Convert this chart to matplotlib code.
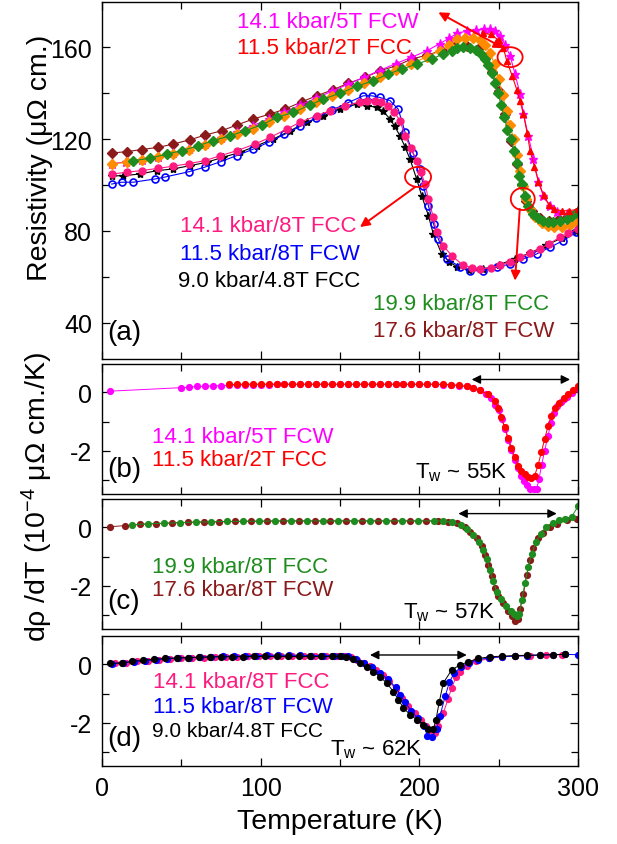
import matplotlib
matplotlib.use("Agg")
import matplotlib.pyplot as plt
from matplotlib.patches import Ellipse

plt.rcParams["font.family"] = ["Liberation Sans", "DejaVu Sans"]
plt.rcParams["mathtext.fontset"] = "custom"
plt.rcParams["mathtext.rm"] = "Liberation Sans"
plt.rcParams["mathtext.it"] = "Liberation Sans:italic"
plt.rcParams["axes.unicode_minus"] = False

# ---------------- panel (a): resistivity ----------------
T_maroon = [6, 15.5, 25, 35.5, 45, 55.5, 65, 75.4, 85, 95.4, 106, 115.3, 126, 135.3, 145.8,
            155.3, 165.8, 175.2, 185.7, 195.2, 205, 214, 222, 230, 237, 242, 246, 250, 254,
            258, 261.5, 264.5, 267.5, 271, 276, 282, 288, 294, 299]
R_maroon = [113.9, 114.5, 115.4, 116.4, 117.8, 119.7, 121.7, 123.6, 126.1, 128.7, 130.9, 133.0,
            136.2, 138.8, 141.5, 144.3, 146.8, 149.7, 151.9, 154.8, 156.5, 158.5, 160, 160.3,
            159, 155.5, 149, 141, 131, 119, 109, 100, 93, 88.5, 85.5, 84.5, 85, 86.5, 88]

T_orange = [6, 15.5, 25, 35, 45, 55, 65, 75, 85, 95, 105, 115, 125, 135, 145, 155, 165, 175,
            185, 195, 205, 213, 219, 224, 229, 234, 238, 241.5, 244.5, 247.5, 250, 252.5, 255,
            257, 259.5, 261.5, 263.5, 265.5, 267.5, 270, 273, 277, 281, 285, 290, 295, 300]
R_orange = [109.1, 109.9, 110.8, 112, 113.3, 115.2, 117.5, 119.8, 122, 124.5, 127.2, 130, 133,
            136, 138.8, 141.5, 144.3, 147, 150, 152.8, 155.8, 158.5, 161, 163.3, 164, 164,
            163, 161, 157.5, 152.5, 146, 139, 132, 126, 120, 113, 106, 99.5, 94, 89.5, 86,
            83.5, 82.2, 81.6, 81.9, 82.6, 84]

T_green = [19.7, 30.3, 40.8, 50.2, 60.7, 70.2, 80.7, 90.1, 100.6, 110.1, 120.6, 131.1, 139.5,
           150, 160.5, 171, 180.5, 188.9, 198.3, 207.8, 215.1, 220.4, 223.6, 227.7, 232, 236,
           239, 241.5, 243.5, 245.5, 247.5, 249.5, 251.5, 253.5, 255.5, 257.5, 259.5, 261.4,
           263, 264.5, 266.6, 268.7, 271.9, 275, 278.2, 281, 284.5, 288.5, 292.9, 296.5, 300]
R_green = [110.6, 111.6, 113.5, 114.9, 117.1, 119.3, 121.4, 123.6, 126.1, 129.4, 131.6, 134.8,
           137.4, 139.9, 142.9, 145.4, 148.3, 150.4, 152.6, 154.8, 157, 158.4, 159.4, 159.9,
           159.8, 158.8, 157, 154.8, 152, 148.5, 144.5, 140, 135, 129.5, 124, 120, 115, 109.5,
           104, 100.4, 95.3, 91, 87.4, 85.6, 84.5, 84, 83.8, 84.2, 85.2, 86.5, 88.1]

T_magenta = [6, 15, 25, 35, 45, 55, 65, 75, 85, 95, 105, 115, 125, 135, 145, 155, 165, 175,
             185, 195, 205, 213, 219, 224, 230, 236, 241, 244.6, 247.8, 250.9, 254, 257.2,
             260.3, 263.5, 265.6, 268.7, 271.9, 275.1, 278.2, 282.4, 286.6, 292.9, 300]
R_magenta = [109.3, 110, 111, 112.3, 113.8, 115.8, 118, 120.5, 123, 125.8, 128.7, 131.7, 134.8,
             137.8, 140.8, 143.8, 146.8, 149.8, 152.8, 155.5, 158.5, 161.5, 164, 166, 167,
             167.5, 167.8, 167.8, 166.8, 164.9, 161, 156.2, 148.3, 139.6, 130.9, 121.4, 111.3,
             101.2, 95.3, 91, 88.1, 87.4, 88.1]

T_red = [240, 245, 250, 253, 255.1, 258.5, 261.4, 263.5, 265.6, 268, 269.8, 272.5, 275.1,
         278.3, 281.5, 285, 289.7, 294.5, 300]
R_red = [166, 165.5, 163, 159.5, 154, 147.5, 141.5, 136.5, 130.9, 122.5, 114.9, 108, 101.5,
         95.5, 91.5, 89.5, 88.8, 88.8, 89.5]

T_pink = [6.1, 15.5, 25, 35, 45, 55, 64.9, 74.4, 84.9, 96.4, 105.9, 116.4, 124.8, 135.3, 143.7,
          153.2, 162.6, 167, 172.1, 176, 180, 184, 187.8, 191, 194.5, 198.3, 201, 203.6,
          205.7, 208.8, 210.9, 215.1, 220.4, 227.7, 233, 238.3, 245, 250.9, 257, 263.5, 270,
          276, 282, 288.7, 294, 300]
R_pink = [104.8, 105.5, 106.3, 107.2, 108.2, 109.3, 110.6, 112.7, 114.9, 117.8, 120.7, 124.3,
          127.3, 130.1, 132.3, 134.5, 136, 136.5, 136.7, 136, 134.5, 131.8, 128, 121.4, 116,
          110.6, 105.5, 100.4, 93.9, 86, 79.4, 73.6, 69.3, 65, 64, 63.5, 64, 65, 66.7, 68.6,
          70.3, 72.2, 74.5, 77.3, 79, 80.9]

T_black = [6.1, 13.4, 24, 34.5, 45, 55.5, 66, 76.5, 87, 97.5, 108, 118.5, 129, 139.5, 150,
           160.5, 166.8, 173.1, 177, 181.5, 184.5, 187.8, 191, 194.1, 198.3, 201.5, 205.7,
           208.8, 214.1, 219, 224, 231, 240, 250, 260, 270, 280, 290, 299]
R_black = [104, 104, 104.8, 106.2, 107, 108.4, 109.9, 112.1, 114.2, 117.1, 120, 123.6, 127.3,
           130.1, 133, 135.2, 134.5, 133.8, 132.3, 128.7, 125.5, 121.4, 116.5, 111.3, 102.6,
           95.3, 86.7, 78.7, 70, 66.5, 64.3, 63.2, 63.3, 65.3, 67.8, 70.5, 73.8, 77, 80]

T_blue = [6.1, 12.3, 19.7, 33.4, 40, 55, 65, 75, 85, 95, 105, 115, 125, 135, 145, 155, 164.7,
          170, 175, 181.5, 186.7, 191, 196, 200.4, 202.5, 205.7, 209, 212, 217.2, 225.6,
          231.9, 240.3, 248.7, 257.1, 265.5, 273.9, 282.3, 290.7, 299]
R_blue = [100.4, 101.2, 101.2, 102.6, 103.5, 105.8, 107.8, 110.2, 112.8, 115.5, 118.6, 122,
          125.5, 129.2, 132.6, 135.8, 138.8, 138.8, 138.1, 136.7, 133, 123, 114, 107, 99.7,
          91, 83, 76.5, 67.8, 64.5, 62.7, 62.7, 64.2, 65.6, 67.8, 70, 72.9, 75.8, 79.4]

# ---------------- panel (b): derivative ----------------
Tb_magenta = [5, 50, 55, 60, 65, 70, 75, 80, 85, 90, 95, 100, 105, 110, 115, 120, 125, 130, 135,
              140, 145, 150, 155, 160, 165, 170, 175, 180, 185, 190, 195, 200, 205, 210, 215,
              220, 225, 230, 234, 238, 242, 245, 248, 250, 252, 254, 256, 258, 260, 262, 264,
              266, 268, 270, 272, 274, 275.5, 277, 279, 281, 283, 285, 287, 289, 291, 293, 296,
              300]
Db_magenta = [0.04, 0.16, 0.18, 0.2, 0.21, 0.22, 0.23, 0.24, 0.25, 0.25, 0.26, 0.26, 0.26, 0.27,
              0.27, 0.27, 0.27, 0.27, 0.27, 0.27, 0.27, 0.27, 0.27, 0.27, 0.27, 0.27, 0.27, 0.27,
              0.27, 0.27, 0.27, 0.27, 0.27, 0.27, 0.26, 0.25, 0.23, 0.2, 0.15, 0.07, -0.05, -0.2,
              -0.42, -0.62, -0.92, -1.25, -1.62, -1.98, -2.3, -2.6, -2.85, -3.05, -3.18, -3.3,
              -3.32, -3.3, -2.95, -2.5, -2.0, -1.5, -1.05, -0.7, -0.48, -0.34, -0.24, -0.15,
              -0.02, 0.12]

Tb_red = [80, 85, 90, 95, 100, 105, 110, 115, 120, 125, 130, 135, 140, 145, 150, 155, 160, 165,
          170, 175, 180, 185, 190, 195, 200, 205, 210, 215, 220, 225, 229.8, 234, 238, 243.3,
          247.5, 249.6, 251.7, 253.8, 255.9, 258, 260.1, 262.2, 264.3, 266.4, 268.5, 270.6,
          272.7, 274.8, 276.9, 279, 281.1, 283.2, 285.3, 288, 291, 294, 297, 300]
Db_red = [0.27, 0.27, 0.28, 0.28, 0.28, 0.28, 0.28, 0.28, 0.28, 0.28, 0.28, 0.28, 0.28, 0.28,
          0.28, 0.28, 0.28, 0.28, 0.28, 0.28, 0.28, 0.28, 0.28, 0.28, 0.28, 0.28, 0.28, 0.27,
          0.26, 0.24, 0.2, 0.15, 0.08, -0.07, -0.3, -0.52, -0.86, -1.2, -1.55, -1.89, -2.23,
          -2.51, -2.68, -2.8, -2.9, -2.92, -2.85, -2.5, -2.05, -1.6, -1.15, -0.8, -0.55, -0.35,
          -0.2, -0.07, 0.08, 0.2]

# ---------------- panel (c) ----------------
Tc_maroon = [5, 14.5, 24, 34, 44, 54, 64, 74, 84, 94, 104, 114, 124, 134, 144, 154, 164, 174,
             184, 194, 204, 212, 218, 223.5, 228.8, 231.9, 236.2, 239.3, 241.4, 243.5, 245.6,
             247.7, 249.8, 253, 256, 258.5, 260.3, 262, 263.5, 265.6, 267.7, 269.8, 271.9, 275,
             278.2, 282.4, 286.6, 292.9, 299.2]
Dc_maroon = [0.02, 0.06, 0.1, 0.13, 0.15, 0.17, 0.18, 0.19, 0.2, 0.21, 0.21, 0.22, 0.22, 0.22,
             0.22, 0.22, 0.22, 0.22, 0.22, 0.22, 0.22, 0.22, 0.19, 0.14, 0.02, -0.15, -0.37,
             -0.65, -0.94, -1.28, -1.67, -2.07, -2.35, -2.6, -2.85, -3.05, -3.2, -3.15, -2.8,
             -2.29, -1.62, -1.11, -0.71, -0.37, -0.2, 0.0, 0.12, 0.25, 0.3]

Tc_green = [19, 29, 39, 49, 59, 69, 79, 89, 99, 109, 119, 129, 139, 149, 159, 169, 179, 189,
            199, 209, 215, 220.5, 226, 230, 234, 237.5, 240.3, 242.5, 244.5, 246.6, 248.8, 251.5,
            254.5, 257.5, 259.8, 261.4, 263, 264.5, 266.6, 268.7, 270.8, 273.5, 276.5, 280,
            284, 288, 292, 296, 300]
Dc_green = [0.09, 0.12, 0.14, 0.16, 0.18, 0.19, 0.2, 0.21, 0.21, 0.22, 0.22, 0.22, 0.22, 0.22,
            0.22, 0.22, 0.22, 0.22, 0.22, 0.22, 0.22, 0.17, 0.09, -0.05, -0.25, -0.5, -0.78,
            -1.1, -1.45, -1.85, -2.2, -2.45, -2.68, -2.85, -2.95, -3.02, -2.95, -2.5, -1.9,
            -1.35, -0.9, -0.5, -0.22, 0.02, 0.15, 0.24, 0.3, 0.36, 0.72]

# ---------------- panel (d) ----------------
Td_black = [5, 12.4, 19, 26, 33, 40, 47, 54, 61, 68, 75, 82, 89, 96, 103, 110, 117, 124, 131,
            138, 145, 150, 154, 158.4, 162.6, 166.8, 171, 175.2, 179.4, 183.6, 186.8, 190, 194.1,
            198.3, 202.5, 205.7, 208.8, 210.5, 212.5, 215.1, 220.4, 225.7, 230.9, 237.2, 244.6,
            252, 260, 268, 276, 284, 292]
Dd_black = [0.03, 0.05, 0.1, 0.14, 0.17, 0.2, 0.22, 0.23, 0.24, 0.25, 0.26, 0.26, 0.26, 0.27,
            0.27, 0.27, 0.27, 0.27, 0.27, 0.27, 0.27, 0.27, 0.26, 0.17, 0.06, -0.08, -0.25,
            -0.42, -0.64, -0.93, -1.21, -1.49, -1.72, -1.89, -2.06, -2.2, -2.23, -1.89, -1.3,
            -0.64, -0.19, -0.02, 0.09, 0.2, 0.26, 0.28, 0.3, 0.31, 0.32, 0.33, 0.34]

Td_blue = [6, 13, 20, 27, 34, 41, 48, 55, 62, 69, 76, 83, 90, 97, 104, 111, 118, 125, 132, 139,
           146, 151, 155, 160, 165, 170, 175, 180, 185, 188, 191, 195, 199, 203, 205, 207.8,
           211, 213, 216.3, 219, 222, 226, 231, 237, 244, 252, 260, 268, 276, 284, 292, 300]
Dd_blue = [0.02, 0.06, 0.09, 0.13, 0.16, 0.19, 0.21, 0.23, 0.25, 0.26, 0.27, 0.28, 0.29, 0.3,
           0.31, 0.31, 0.31, 0.31, 0.3, 0.3, 0.3, 0.29, 0.27, 0.18, 0.05, -0.1, -0.28, -0.5,
           -0.78, -1.05, -1.3, -1.6, -1.85, -2.1, -2.45, -2.5, -2.2, -1.77, -1.09, -0.6, -0.3,
           -0.1, 0.05, 0.16, 0.22, 0.26, 0.28, 0.3, 0.32, 0.33, 0.34, 0.33]

Td_pink = [8, 15, 22, 29, 36, 43, 50, 57, 64, 71, 78, 85, 92, 99, 106, 113, 120, 127, 134, 141,
           148, 153, 157, 161, 165, 169, 173, 177, 181, 185, 189, 193, 197, 201, 204, 207,
           209.9, 212, 215.2, 218, 220.4, 223, 225.7, 230, 236, 244, 252, 260, 270, 280, 290]
Dd_pink = [0.03, 0.06, 0.1, 0.13, 0.16, 0.19, 0.21, 0.22, 0.23, 0.24, 0.25, 0.26, 0.27, 0.28,
           0.28, 0.28, 0.28, 0.28, 0.28, 0.28, 0.28, 0.27, 0.24, 0.16, 0.06, -0.05, -0.2, -0.38,
           -0.58, -0.85, -1.15, -1.42, -1.68, -1.9, -2.1, -2.25, -2.34, -2.1, -1.66, -1.2,
           -0.81, -0.45, -0.25, -0.05, 0.1, 0.2, 0.26, 0.28, 0.3, 0.32, 0.33]

# ---------------- colores ----------------
C_MAG = "#FF00FF"
C_RED = "#FF0000"
C_ORA = "#FF8C00"
C_GRN = "#1E8C1E"
C_MAR = "#8B1A1A"
C_PNK = "#FF1A80"
C_BLU = "#0000FF"
C_BLK = "#000000"

FS_TICK = 18
FS_TXT = 16
FS_LAB = 20.5
FS_PANEL = 20

fig = plt.figure(figsize=(6.17, 8.45), dpi=100)
W = 617.0
H = 845.0
left = 102 / W
width = 476 / W

ax_a = fig.add_axes([left, 1 - 360 / H, width, 357 / H])
ax_b = fig.add_axes([left, 1 - 495 / H, width, 130 / H])
ax_c = fig.add_axes([left, 1 - 630 / H, width, 130 / H])
ax_d = fig.add_axes([left, 1 - 767 / H, width, 130 / H])


def estilo(ax):
    ax.set_xlim(0, 300)
    ax.set_xticks([0, 100, 200, 300])
    ax.set_xticks([50, 150, 250], minor=True)
    ax.tick_params(which="both", direction="in", top=True, right=True,
                   labelsize=FS_TICK, pad=7)
    ax.tick_params(which="major", length=6, width=0.9)
    ax.tick_params(which="minor", length=5, width=0.9)
    for s in ax.spines.values():
        s.set_linewidth(1.0)


# ---- (a)
lw = 0.8
ax_a.plot(T_maroon, R_maroon, "-D", color=C_MAR, ms=5, lw=lw)
ax_a.plot(T_magenta, R_magenta, "-*", color=C_MAG, ms=6.5, lw=lw)
ax_a.plot(T_orange, R_orange, "-D", color=C_ORA, ms=5, lw=lw)
ax_a.plot(T_green, R_green, "-D", color=C_GRN, ms=5, lw=lw)
ax_a.plot(T_red, R_red, "-^", color=C_RED, ms=5, lw=lw)
ax_a.plot(T_black, R_black, "-*", color=C_BLK, ms=6, lw=lw)
ax_a.plot(T_blue, R_blue, "-o", color=C_BLU, ms=5, lw=lw, mfc="none", mew=1.2)
ax_a.plot(T_pink, R_pink, "-o", color=C_PNK, ms=5, lw=lw)

estilo(ax_a)
ax_a.set_ylim(24.3, 179.6)
ax_a.set_yticks([40, 80, 120, 160])
ax_a.set_yticks([60, 100, 140], minor=True)
ax_a.tick_params(labelbottom=False)

for (cx, cy, ew, eh) in [(257.2, 155.6, 15.8, 8.7), (199.2, 103.5, 16.4, 8.7),
                         (265.2, 93.9, 15.1, 9.6)]:
    ax_a.add_patch(Ellipse((cx, cy), ew, eh, fill=False, ec=C_RED, lw=1.3, zorder=5))

ax_a.annotate("", xy=(212, 175.1), xytext=(253, 159.5),
              arrowprops=dict(arrowstyle="<|-|>", color=C_RED, lw=1.4,
                              mutation_scale=14, shrinkA=0, shrinkB=0))
ax_a.annotate("", xy=(162.6, 81.7), xytext=(197.3, 99.1),
              arrowprops=dict(arrowstyle="-|>", color=C_RED, lw=1.4,
                              mutation_scale=14, shrinkA=0, shrinkB=0))
ax_a.annotate("", xy=(260.3, 58.4), xytext=(263.3, 89.6),
              arrowprops=dict(arrowstyle="-|>", color=C_RED, lw=1.4,
                              mutation_scale=14, shrinkA=0, shrinkB=0))

ax_a.text(85.1, 170.9, "14.1 kbar/5T FCW", color=C_MAG, fontsize=FS_TXT, va="center")
ax_a.text(85.1, 160.0, "11.5 kbar/2T FCC", color=C_RED, fontsize=FS_TXT, va="center")
ax_a.text(49.2, 82.2, "14.1 kbar/8T FCC", color=C_PNK, fontsize=FS_TXT, va="center")
ax_a.text(49.2, 70.0, "11.5 kbar/8T FCW", color=C_BLU, fontsize=FS_TXT, va="center")
ax_a.text(47.9, 58.3, "9.0 kbar/4.8T FCC", color=C_BLK, fontsize=FS_TXT, va="center")
ax_a.text(170.8, 48.3, "19.9 kbar/8T FCC", color=C_GRN, fontsize=FS_TXT, va="center")
ax_a.text(170.8, 36.5, "17.6 kbar/8T FCW", color=C_MAR, fontsize=FS_TXT, va="center")
ax_a.text(3.5, 36.0, "(a)", fontsize=FS_PANEL, va="center")

# ---- (b), (c), (d)
def panel_deriv(ax):
    estilo(ax)
    ax.set_ylim(-3.48, 0.97)
    ax.set_yticks([-2, 0])
    ax.set_yticks([-3, -1], minor=True)


def flecha(ax, x0, x1, y):
    ax.annotate("", xy=(x1, y), xytext=(x0, y),
                arrowprops=dict(arrowstyle="<|-|>", color="black", lw=1.0,
                                mutation_scale=13, shrinkA=0, shrinkB=0))


ms_d = 5.2
ax_b.plot(Tb_magenta, Db_magenta, "-o", color=C_MAG, ms=ms_d, lw=0.7, mec="none")
ax_b.plot(Tb_red, Db_red, "-o", color=C_RED, ms=ms_d, lw=0.7, mec="none")
panel_deriv(ax_b)
ax_b.tick_params(labelbottom=False)
flecha(ax_b, 233, 295, 0.44)
ax_b.text(31.5, -1.5, "14.1 kbar/5T FCW", color=C_MAG, fontsize=FS_TXT, va="center")
ax_b.text(31.5, -2.29, "11.5 kbar/2T FCC", color=C_RED, fontsize=FS_TXT, va="center")
ax_b.text(3.5, -2.63, "(b)", fontsize=FS_PANEL, va="center")
ax_b.text(197.3, -2.7, r"T$_{\rm w}$ ~ 55K", fontsize=FS_TXT, va="center")

ax_c.plot(Tc_maroon, Dc_maroon, "-o", color=C_MAR, ms=ms_d, lw=0.7, mec="none")
ax_c.plot(Tc_green, Dc_green, "-o", color=C_GRN, ms=ms_d, lw=0.7, mec="none")
panel_deriv(ax_c)
ax_c.tick_params(labelbottom=False)
flecha(ax_c, 224.6, 286.6, 0.47)
ax_c.text(31.3, -1.33, "19.9 kbar/8T FCC", color=C_GRN, fontsize=FS_TXT, va="center")
ax_c.text(31.3, -2.12, "17.6 kbar/8T FCW", color=C_MAR, fontsize=FS_TXT, va="center")
ax_c.text(3.5, -2.52, "(c)", fontsize=FS_PANEL, va="center")
ax_c.text(189.7, -2.9, r"T$_{\rm w}$ ~ 57K", fontsize=FS_TXT, va="center")

ax_d.plot(Td_pink, Dd_pink, "-o", color=C_PNK, ms=ms_d, lw=0.7, mec="none")
ax_d.plot(Td_blue, Dd_blue, "-o", color=C_BLU, ms=ms_d, lw=0.7, mec="none")
ax_d.plot(Td_black, Dd_black, "-o", color=C_BLK, ms=ms_d, lw=0.7, mec="none")
panel_deriv(ax_d)
flecha(ax_d, 168.9, 229.9, 0.32)
ax_d.text(32.4, -0.59, "14.1 kbar/8T FCC", color=C_PNK, fontsize=FS_TXT, va="center")
ax_d.text(32.4, -1.43, "11.5 kbar/8T FCW", color=C_BLU, fontsize=FS_TXT, va="center")
ax_d.text(31.3, -2.28, "9.0 kbar/4.8T FCC", color=C_BLK, fontsize=15, va="center")
ax_d.text(3.5, -2.51, "(d)", fontsize=FS_PANEL, va="center")
ax_d.text(143.7, -2.88, r"T$_{\rm w}$ ~ 62K", fontsize=FS_TXT, va="center")

# ---- etiquetas de ejes
fig.text(340 / W, 1 - 822 / H, "Temperature (K)", fontsize=FS_LAB, ha="center", va="center")
fig.text(40 / W, 1 - 158 / H, "Resistivity (μΩ cm.)", fontsize=FS_LAB, rotation=90,
         ha="center", va="center")
fig.text(37 / W, 1 - 497 / H, r"dρ /dT (10$^{-4}$ μΩ cm./K)", fontsize=FS_LAB, rotation=90,
         ha="center", va="center")

fig.savefig("out.png", dpi=100)
